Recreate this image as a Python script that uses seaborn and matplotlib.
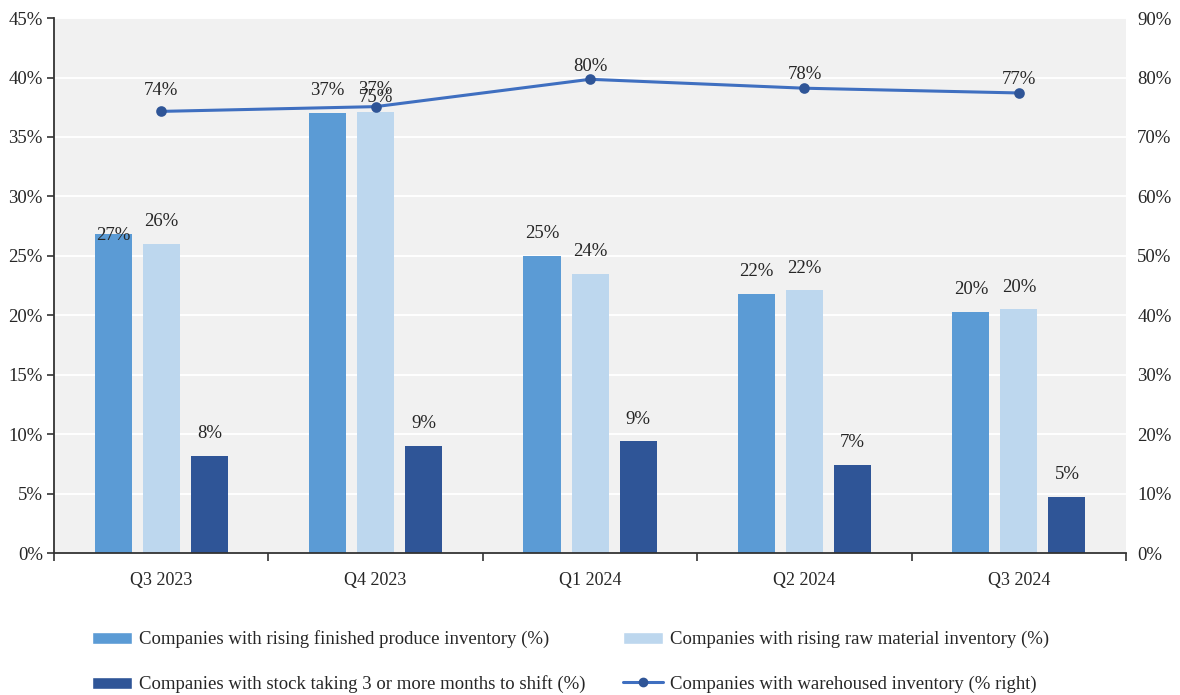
import numpy as np
import pandas as pd
import matplotlib
matplotlib.use("Agg")
import matplotlib.pyplot as plt
from matplotlib.ticker import FixedLocator, PercentFormatter
from matplotlib.patches import Patch
from matplotlib.lines import Line2D
import seaborn as sns

# --- data -------------------------------------------------------------------
quarters = ["Q3 2023", "Q4 2023", "Q1 2024", "Q2 2024", "Q3 2024"]
finished_rising = [26.8, 37.0, 25.0, 21.8, 20.3]
raw_rising = [26.0, 37.1, 23.5, 22.1, 20.5]
slow_stock = [8.2, 9.0, 9.4, 7.4, 4.7]
warehoused = [74.3, 75.1, 79.7, 78.2, 77.4]

series_names = [
    "Companies with rising finished produce inventory (%)",
    "Companies with rising raw material inventory (%)",
    "Companies with stock taking 3 or more months to shift (%)",
]
line_name = "Companies with warehoused inventory (% right)"

bar_colors = ["#5b9bd5", "#bdd7ee", "#2f5597"]
line_color = "#3f6fc0"
marker_color = "#2f5597"

df = pd.DataFrame({
    "quarter": quarters * 3,
    "value": finished_rising + raw_rising + slow_stock,
    "series": [series_names[0]] * 5 + [series_names[1]] * 5 + [series_names[2]] * 5,
})

# --- style ------------------------------------------------------------------
sns.set_theme(style="white")
plt.rcParams["font.family"] = ["Liberation Serif", "DejaVu Serif"]
text_color = "#262626"
fs = 13.5

fig = plt.figure(figsize=(11.8, 6.95), dpi=100)
ax = fig.add_axes([0.0458, 0.2043, 0.9085, 0.7697])
ax.set_facecolor("#f1f1f1")

sns.barplot(
    data=df, x="quarter", y="value", hue="series", order=quarters,
    hue_order=series_names, palette=bar_colors, width=0.672, gap=0.228,
    saturation=1, linewidth=0, ax=ax, legend=False, zorder=2,
)

ax.set_xlim(-0.5, len(quarters) - 0.5)
ax.set_ylim(0, 45)
ax.yaxis.set_major_locator(FixedLocator(np.arange(0, 46, 5)))
ax.yaxis.set_major_formatter(PercentFormatter(decimals=0))
ax.grid(axis="y", color="white", linewidth=1.4, zorder=0)
ax.set_axisbelow(True)
ax.set_xlabel("")
ax.set_ylabel("")

# bottom ticks mark the boundaries between quarters
ax.set_xticks(range(len(quarters)))
ax.set_xticklabels(quarters)
ax.set_xticks(np.arange(-0.5, len(quarters), 1.0), minor=True)
ax.tick_params(axis="x", which="major", length=0, pad=14, labelsize=13, labelcolor=text_color)
ax.tick_params(axis="x", which="minor", length=6, width=1.2, direction="out", color="#333333", bottom=True)
ax.tick_params(axis="y", length=5, width=1.2, direction="out", color="#333333", pad=3,
               labelsize=fs, labelcolor=text_color, left=True)

for side in ["top", "right"]:
    ax.spines[side].set_visible(False)
for side in ["left", "bottom"]:
    ax.spines[side].set_color("#333333")
    ax.spines[side].set_linewidth(1.3)

# value labels above the bars (offsets in points)
label_offsets = [
    [-1, 16, 16, 16, 16],
    [16, 16, 16, 16, 16],
    [16, 16, 16, 16, 16],
]
series_vals = [finished_rising, raw_rising, slow_stock]
for s_idx, cont in enumerate(ax.containers):
    for q_idx, bar in enumerate(cont):
        v = series_vals[s_idx][q_idx]
        ax.annotate(f"{v:.0f}%", (bar.get_x() + bar.get_width() / 2, v),
                    xytext=(0, label_offsets[s_idx][q_idx]), textcoords="offset points",
                    ha="center", va="center", fontsize=fs, color=text_color, zorder=5)

# --- right axis: warehoused inventory line ---------------------------------
ax2 = ax.twinx()
sns.pointplot(x=quarters, y=warehoused, order=quarters, color=line_color,
              markers="o", markersize=6, linewidth=2.2, ax=ax2, zorder=4)
for ln in ax2.lines:
    ln.set_markerfacecolor(marker_color)
    ln.set_markeredgecolor(marker_color)
ax2.set_xlim(-0.5, len(quarters) - 0.5)
ax2.set_ylim(0, 90)
ax2.yaxis.set_major_locator(FixedLocator(np.arange(0, 91, 10)))
ax2.yaxis.set_major_formatter(PercentFormatter(decimals=0))
ax2.tick_params(axis="y", length=0, pad=8, labelsize=fs, labelcolor=text_color)
ax2.grid(False)
for side in ["top", "right", "left", "bottom"]:
    ax2.spines[side].set_visible(False)

line_label_offsets = [15, 6.5, 9, 10, 9.5]
for q_idx, v in enumerate(warehoused):
    ax2.annotate(f"{v:.0f}%", (q_idx, v), xytext=(0, line_label_offsets[q_idx]),
                 textcoords="offset points", ha="center", va="center",
                 fontsize=fs, color=text_color, zorder=6)

# --- legend -----------------------------------------------------------------
handles = [
    Patch(facecolor=bar_colors[0], label=series_names[0]),
    Patch(facecolor=bar_colors[2], label=series_names[2]),
    Patch(facecolor=bar_colors[1], label=series_names[1]),
    Line2D([0], [0], color=line_color, linewidth=2.2, marker="o", markersize=6,
           markerfacecolor=marker_color, markeredgecolor=marker_color, label=line_name),
]
fig.legend(handles=handles, loc="upper left", bbox_to_anchor=(0.078, 0.093),
           ncol=2, frameon=False, fontsize=fs, handlelength=2.15, handleheight=0.6,
           handletextpad=0.35, columnspacing=2.0, labelspacing=1.45, borderaxespad=0,
           borderpad=0, labelcolor=text_color)

fig.savefig("out.png", dpi=100, facecolor="white")
